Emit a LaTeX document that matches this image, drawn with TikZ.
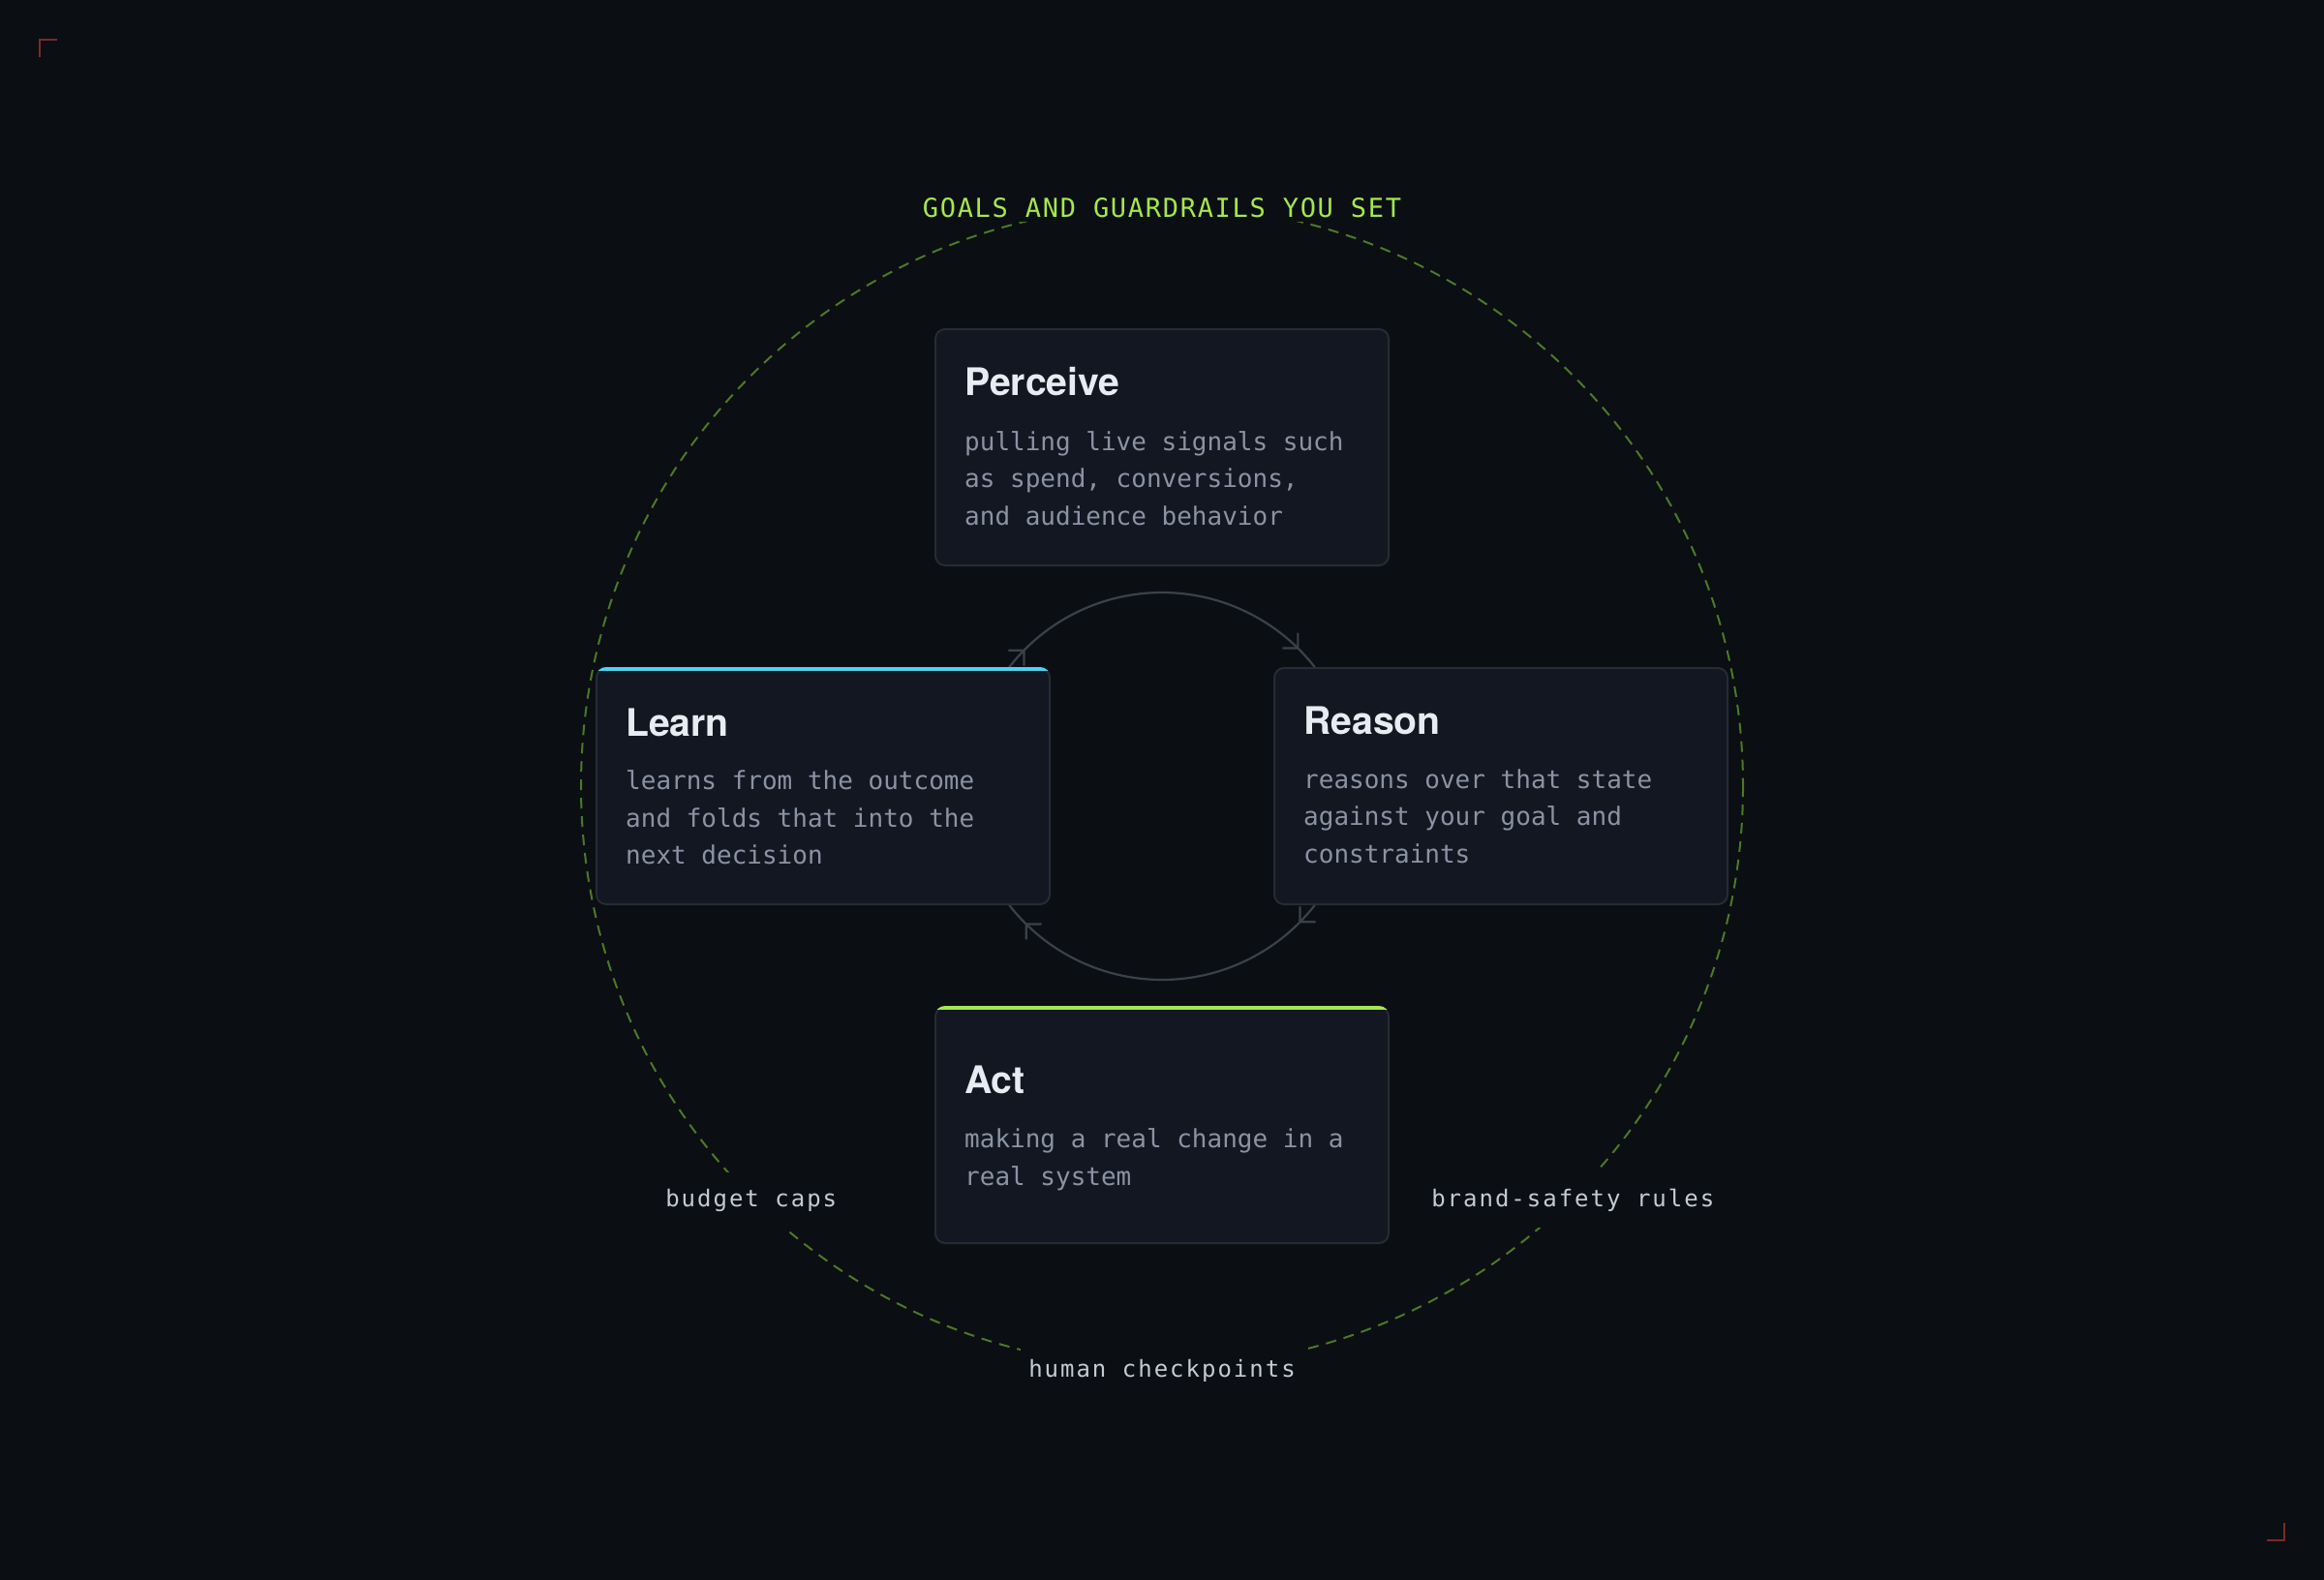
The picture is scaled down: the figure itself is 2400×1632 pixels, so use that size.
\documentclass[tikz,border=0pt]{standalone}
\usepackage{fontspec}
\usetikzlibrary{arrows.meta,decorations.markings,calc}
\newfontfamily\titlefont{TeX Gyre Heros}
\newfontfamily\bodyfont{DejaVu Sans Mono}
\newfontfamily\labelfont{DejaVu Sans Mono}[LetterSpace=8.3]
\newfontfamily\capsfont{DejaVu Sans Mono}[LetterSpace=6.3]
\definecolor{bg}{HTML}{0B0E13}
\definecolor{cardfill}{HTML}{121721}
\definecolor{cardline}{HTML}{262B35}
\definecolor{titletext}{HTML}{E8EBF2}
\definecolor{bodytext}{HTML}{8A93A4}
\definecolor{flowc}{HTML}{3B414B}
\definecolor{guardc}{HTML}{4A7A26}
\definecolor{limec}{HTML}{A3E84E}
\definecolor{cyanc}{HTML}{4FD1F0}
\definecolor{labeltext}{HTML}{C5CBD3}
\definecolor{cornerc}{HTML}{7C2B26}
\begin{document}
\begin{tikzpicture}[x=1pt,y=-1pt,
  card/.style={draw=cardline, fill=cardfill, line width=2pt, rounded corners=10pt,
    minimum width=468pt, minimum height=244pt, inner sep=0pt},
  ttl/.style={anchor=base west, inner sep=0pt, text=titletext,
    font=\titlefont\bfseries\fontsize{39.2}{42}\selectfont},
  body/.style={anchor=base west, inner sep=0pt, text=bodytext,
    font=\bodyfont\fontsize{26}{30}\selectfont},
  glabel/.style={anchor=base, fill=bg, inner xsep=8pt, text=labeltext,
    font=\labelfont\fontsize{24}{28}\selectfont},
  capslabel/.style={anchor=base, fill=bg, inner xsep=8pt, inner ysep=4pt, text=limec,
    font=\capsfont\fontsize{27}{30}\selectfont},
  guard/.style={draw=guardc, line width=2pt, dash pattern=on 11pt off 8pt},
  flow/.style={color=flowc, draw, line width=2.2pt},
  flowmarks/.style={postaction={decorate}, decoration={markings,
    mark=at position 0.068 with {\arrow{Straight Barb[length=11.3pt,width=22.6pt]}},
    mark=at position 0.932 with {\arrow{Straight Barb[length=11.3pt,width=22.6pt]}}}},
  corner/.style={draw=cornerc, line width=2pt}
]
\fill[bg] (0,0) rectangle (2400,1632);
\useasboundingbox (0,0) rectangle (2400,1632);
\coordinate (hub) at (1200,812);

% guardrail circle
\draw[guard] (hub) circle[radius=600];
\node[capslabel] (goals) at ($(hub)+(-90:600)+(0,12.6)$) {GOALS AND GUARDRAILS YOU SET};
\node[glabel, inner ysep=17pt] (budget) at ($(hub)+(135:600)+(0,10)$) {budget caps};
\node[glabel, inner ysep=17pt] (brand) at ($(hub)+(45:600)+(0,10)$) {brand-safety rules};
\node[glabel, inner ysep=14pt] (human) at ($(hub)+(90:600)+(0,10)$) {human checkpoints};

% cycle arcs
\draw[flow, flowmarks] ([shift={(-142.1:200)}]hub) arc[start angle=-142.1, end angle=-37.9, radius=200];
\draw[flow, flowmarks] ([shift={(37.9:200)}]hub) arc[start angle=37.9, end angle=142.1, radius=200];

% cards
\node[card] (perceive) at (1200,462) {};
\node[card] (learn) at (850,812) {};
\node[card] (reason) at (1550,812) {};
\node[card] (act) at (1200,1162) {};

% accent stripes
\begin{scope}
  \clip[rounded corners=11pt] ($(learn.center)+(-235,-123)$) rectangle ($(learn.center)+(235,123)$);
  \fill[cyanc] ($(learn.center)+(-235,-123)$) rectangle ($(learn.center)+(235,-119)$);
\end{scope}
\begin{scope}
  \clip[rounded corners=11pt] ($(act.center)+(-235,-123)$) rectangle ($(act.center)+(235,123)$);
  \fill[limec] ($(act.center)+(-235,-123)$) rectangle ($(act.center)+(235,-119)$);
\end{scope}

% texts
\node[ttl] (perceive-t) at ($(perceive.center)+(-204,-54)$) {Perceive};
\node[body] (perceive-b1) at ($(perceive.center)+(-204,3)$) {pulling live signals such};
\node[body] (perceive-b2) at ($(perceive.center)+(-204,41.5)$) {as spend, conversions,};
\node[body] (perceive-b3) at ($(perceive.center)+(-204,80)$) {and audience behavior};

\node[ttl] (learn-t) at ($(learn.center)+(-204,-52)$) {Learn};
\node[body] (learn-b1) at ($(learn.center)+(-204,3.5)$) {learns from the outcome};
\node[body] (learn-b2) at ($(learn.center)+(-204,42)$) {and folds that into the};
\node[body] (learn-b3) at ($(learn.center)+(-204,80.5)$) {next decision};

\node[ttl] (reason-t) at ($(reason.center)+(-204,-54)$) {Reason};
\node[body] (reason-b1) at ($(reason.center)+(-204,2)$) {reasons over that state};
\node[body] (reason-b2) at ($(reason.center)+(-204,40.5)$) {against your goal and};
\node[body] (reason-b3) at ($(reason.center)+(-204,79)$) {constraints};

\node[ttl] (act-t) at ($(act.center)+(-204,-33)$) {Act};
\node[body] (act-b1) at ($(act.center)+(-204,23.7)$) {making a real change in a};
\node[body] (act-b2) at ($(act.center)+(-204,62.2)$) {real system};

% corner marks
\coordinate (tl) at (41,41);
\coordinate (br) at (2359,1591);
\draw[corner] ($(tl)+(18,0)$) -- (tl) -- ($(tl)+(0,18)$);
\draw[corner] ($(br)+(0,-18)$) -- (br) -- ($(br)+(-18,0)$);
\end{tikzpicture}
\end{document}
